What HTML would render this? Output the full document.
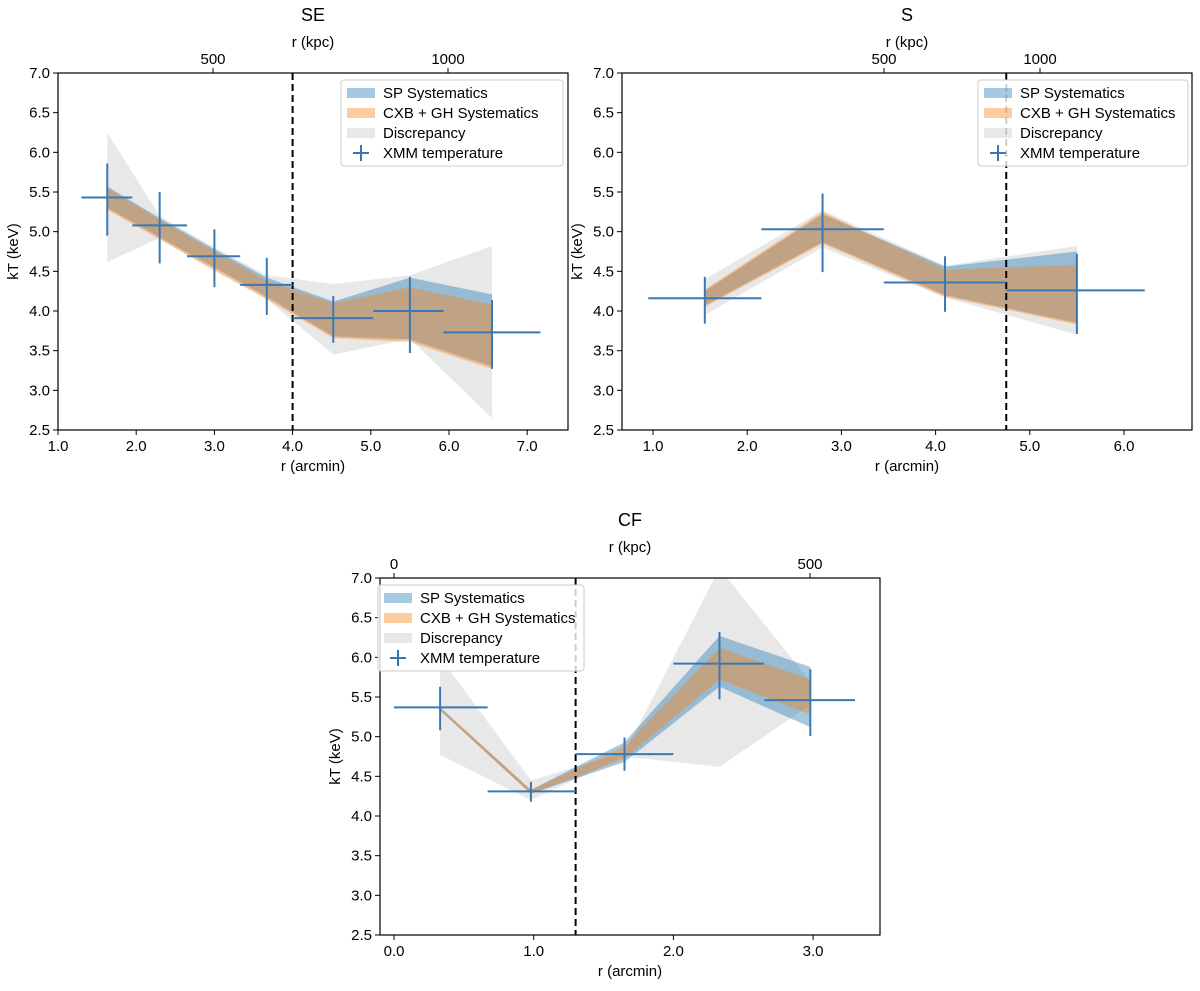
<!DOCTYPE html>
<html><head><meta charset="utf-8"><style>
body{margin:0;background:#fff}
svg text{font-family:"Liberation Sans","DejaVu Sans",sans-serif;fill:#000}
</style></head><body>
<svg id="fig" width="1200" height="986" viewBox="0 0 1200 986" xmlns="http://www.w3.org/2000/svg"></svg>
<script>
// ---------- SE data ----------
const seR=[1.63,2.3,3.0,3.67,4.52,5.5,6.55];
const seRLo=[1.3,1.95,2.65,3.33,4.0,5.03,5.93];
const seRHi=[1.95,2.65,3.33,4.0,5.03,5.93,7.17];
const seT=[5.43,5.08,4.69,4.33,3.91,4.0,3.73];
const seTLo=[4.95,4.6,4.3,3.95,3.6,3.47,3.27];
const seTHi=[5.86,5.5,5.03,4.67,4.19,4.43,4.14];
const seSPHi=[5.57,5.17,4.78,4.42,4.12,4.42,4.21];
const seSPLo=[5.3,4.93,4.55,4.18,3.68,3.64,3.3];
const seCXHi=[5.55,5.15,4.75,4.38,4.1,4.3,4.08];
const seCXLo=[5.28,4.9,4.52,4.15,3.66,3.61,3.27];
const seDiHi=[6.25,5.2,4.8,4.45,4.34,4.45,4.82];
const seDiLo=[4.62,4.92,4.5,4.15,3.45,3.65,2.65];
// ---------- S data ----------
const sR=[1.55,2.8,4.1,5.5];
const sRLo=[0.95,2.15,3.45,4.75];
const sRHi=[2.15,3.45,4.75,6.22];
const sT=[4.16,5.03,4.36,4.26];
const sTLo=[3.84,4.49,3.99,3.71];
const sTHi=[4.43,5.48,4.69,4.72];
const sSPHi=[4.25,5.22,4.56,4.75];
const sSPLo=[4.07,4.87,4.2,3.85];
const sCXHi=[4.27,5.25,4.52,4.58];
const sCXLo=[4.05,4.85,4.18,3.83];
const sDiHi=[4.4,5.27,4.57,4.82];
const sDiLo=[3.95,4.8,4.17,3.7];
// ---------- CF data ----------
const cR=[0.33,0.98,1.65,2.33,2.98];
const cRLo=[0.0,0.67,1.3,2.0,2.65];
const cRHi=[0.67,1.3,2.0,2.65,3.3];
const cT=[5.37,4.31,4.78,5.92,5.46];
const cTLo=[5.08,4.18,4.57,5.47,5.01];
const cTHi=[5.63,4.43,4.99,6.32,5.85];
const cSPHi=[5.37,4.33,4.93,6.27,5.88];
const cSPLo=[5.33,4.28,4.68,5.63,5.12];
const cCXHi=[5.37,4.33,4.88,6.12,5.72];
const cCXLo=[5.33,4.28,4.72,5.72,5.28];
const cDiHi=[6.0,4.45,4.8,7.12,5.7];
const cDiLo=[4.77,4.2,4.75,4.62,5.4];
const yTicks=[2.5,3.0,3.5,4.0,4.5,5.0,5.5,6.0,6.5,7.0];

const NS="http://www.w3.org/2000/svg";
const svg=document.getElementById('fig');
function mk(tag,attrs,parent){const e=document.createElementNS(NS,tag);for(const k in attrs)e.setAttribute(k,attrs[k]);(parent||svg).appendChild(e);return e;}

function panel(o){
  const g=mk('g',{});
  
  
  const X=a=>o.x0+(a-o.a0)*o.ppa;
  const Y=v=>o.top+(7.0-v)*(o.bot-o.top)/4.5;
  const cid='clip-'+o.name;
  const cp=mk('clipPath',{id:cid},g);mk('rect',{x:o.left,y:o.top,width:o.right-o.left,height:o.bot-o.top},cp);
  const dg=mk('g',{'clip-path':'url(#'+cid+')'},g);
  function band(hi,lo,fill,nm){
    let pts=o.R.map((r,i)=>X(r)+','+Y(hi[i]));
    for(let i=o.R.length-1;i>=0;i--)pts.push(X(o.R[i])+','+Y(lo[i]));
    const p=mk('polygon',{points:pts.join(' '),fill:fill},dg);
    
    
  }
  band(o.DiHi,o.DiLo,'rgba(190,190,190,0.35)','discrepancy-band');
  band(o.SPHi,o.SPLo,'rgba(31,119,180,0.4)','sp-systematics-band');
  band(o.CXHi,o.CXLo,'rgba(255,127,14,0.4)','cxb-gh-systematics-band');
  const dl=mk('line',{x1:X(o.dash),x2:X(o.dash),y1:o.top,y2:o.bot,stroke:'#000','stroke-width':2,'stroke-dasharray':'7,4'},dg);
  
  
  o.R.forEach((r,i)=>{
    const e=mk('g',{stroke:'#3b78b2','stroke-width':2},dg);
    
    
    mk('line',{x1:X(o.RLo[i]),x2:X(o.RHi[i]),y1:Y(o.T[i]),y2:Y(o.T[i])},e);
    mk('line',{x1:X(r),x2:X(r),y1:Y(o.TLo[i]),y2:Y(o.THi[i])},e);
  });
  mk('rect',{x:o.left,y:o.top,width:o.right-o.left,height:o.bot-o.top,fill:'none',stroke:'#000','stroke-width':1.2},g);
  yTicks.forEach(v=>{mk('line',{x1:o.left-5,x2:o.left,y1:Y(v),y2:Y(v),stroke:'#000'},g);
    const t=mk('text',{x:o.left-8,y:Y(v)+5,'text-anchor':'end','font-size':15},g);t.textContent=v.toFixed(1);});
  o.xt.forEach(v=>{mk('line',{x1:X(v),x2:X(v),y1:o.bot,y2:o.bot+5,stroke:'#000'},g);
    const t=mk('text',{x:X(v),y:o.bot+21,'text-anchor':'middle','font-size':15},g);t.textContent=v.toFixed(1);});
  o.kt.forEach((k,i)=>{const px=o.kx[i];mk('line',{x1:px,x2:px,y1:o.top-5,y2:o.top,stroke:'#000'},g);
    const t=mk('text',{x:px,y:o.top-9,'text-anchor':'middle','font-size':15},g);t.textContent=k;});
  const cx=(o.left+o.right)/2;
  let t=mk('text',{x:cx,y:o.bot+41,'text-anchor':'middle','font-size':15},g);t.textContent='r (arcmin)';
  
  t=mk('text',{x:cx,y:o.top-26,'text-anchor':'middle','font-size':15},g);t.textContent='r (kpc)';
  
  t=mk('text',{x:cx,y:o.top-52,'text-anchor':'middle','font-size':18},g);t.textContent=o.title;
  
  t=mk('text',{x:0,y:0,'text-anchor':'middle','font-size':15,transform:`translate(${o.left-40},${(o.top+o.bot)/2}) rotate(-90)`},g);t.textContent='kT (keV)';
  
  const L=mk('g',{},g);
  mk('rect',{x:o.lx,y:o.ly,width:o.lw,height:86,rx:3,fill:'rgba(255,255,255,0.8)',stroke:'#ccc'},L);
  const items=[['SP Systematics','rgba(31,119,180,0.4)'],['CXB + GH Systematics','rgba(255,127,14,0.4)'],['Discrepancy','rgba(190,190,190,0.35)'],['XMM temperature',null]];
  items.forEach((it,i)=>{const yy=o.ly+13+i*20;
    const ent=mk('g',{},L);
    if(it[1])mk('rect',{x:o.lx+6,y:yy-5,width:28,height:10,fill:it[1]},ent);
    else{mk('line',{x1:o.lx+12,x2:o.lx+28,y1:yy,y2:yy,stroke:'#3b78b2','stroke-width':2},ent);mk('line',{x1:o.lx+20,x2:o.lx+20,y1:yy-8,y2:yy+8,stroke:'#3b78b2','stroke-width':2},ent);}
    const tt=mk('text',{x:o.lx+42,y:yy+5,'font-size':15},ent);tt.textContent=it[0];});
}
panel({name:'se',title:'SE',left:58,right:568,top:73,bot:430,x0:58,a0:1.0,ppa:78.2,dash:4.0,
  R:seR,RLo:seRLo,RHi:seRHi,T:seT,TLo:seTLo,THi:seTHi,SPHi:seSPHi,SPLo:seSPLo,CXHi:seCXHi,CXLo:seCXLo,DiHi:seDiHi,DiLo:seDiLo,
  xt:[1,2,3,4,5,6,7],kt:['500','1000'],kx:[213,448],lx:341,ly:80,lw:222});
panel({name:'s',title:'S',left:622,right:1192,top:73,bot:430,x0:653,a0:1.0,ppa:94.2,dash:4.75,
  R:sR,RLo:sRLo,RHi:sRHi,T:sT,TLo:sTLo,THi:sTHi,SPHi:sSPHi,SPLo:sSPLo,CXHi:sCXHi,CXLo:sCXLo,DiHi:sDiHi,DiLo:sDiLo,
  xt:[1,2,3,4,5,6],kt:['500','1000'],kx:[884,1040],lx:978,ly:80,lw:210});
panel({name:'cf',title:'CF',left:380,right:880,top:578,bot:935,x0:394,a0:0.0,ppa:139.7,dash:1.3,
  R:cR,RLo:cRLo,RHi:cRHi,T:cT,TLo:cTLo,THi:cTHi,SPHi:cSPHi,SPLo:cSPLo,CXHi:cCXHi,CXLo:cCXLo,DiHi:cDiHi,DiLo:cDiLo,
  xt:[0,1,2,3],kt:['0','500'],kx:[394,810],lx:378,ly:585,lw:206});
</script>
</body></html>
